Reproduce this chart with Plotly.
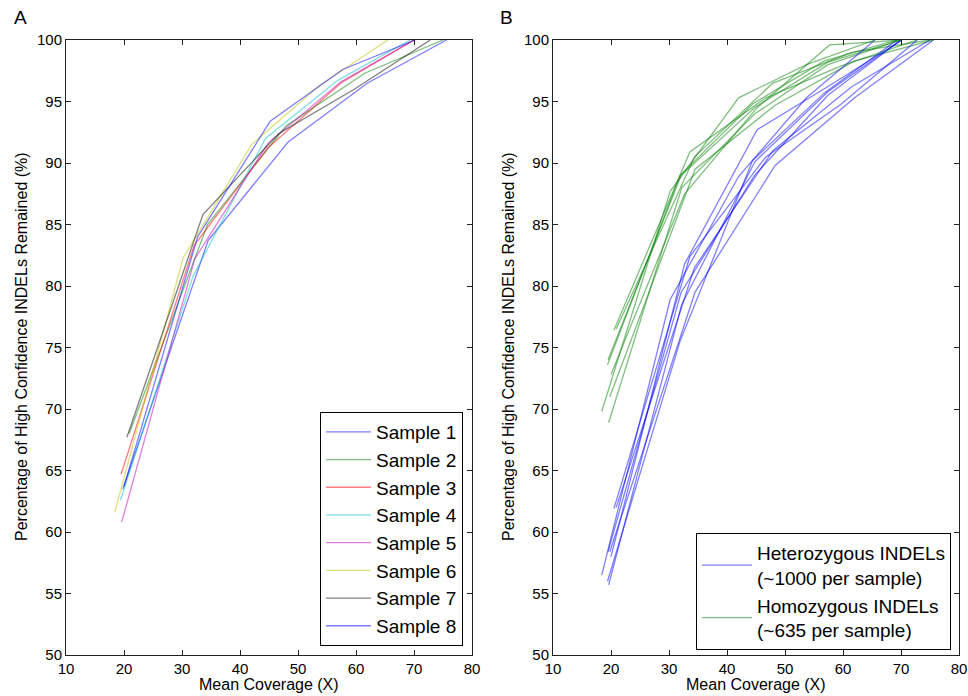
import plotly.graph_objects as go

# mean coverage after each down-sampling step, one list per sample
coverage = [
    [19.8, 34.5, 48.3, 62.0, 75.6],
    [20.9, 34.4, 47.9, 61.5, 75.0],
    [19.5, 32.1, 44.75, 57.4, 70.0],
    [19.4, 31.9, 44.4, 56.8, 69.3],
    [19.6, 32.2, 44.8, 57.4, 70.0],
    [18.4, 30.2, 42.0, 53.7, 65.5],
    [20.5, 33.6, 46.7, 59.7, 72.8],
    [20.0, 32.7, 45.2, 57.7, 70.2],
]

# % of high confidence INDELs remained (all INDELs) - panel A
total_remained = [
    [63.5, 83.7, 91.7, 96.5, 100],
    [68.0, 85.0, 93.0, 97.3, 100],
    [64.7, 83.3, 91.2, 96.5, 100],
    [62.6, 80.8, 92.0, 96.7, 100],
    [60.8, 82.2, 91.6, 96.6, 100],
    [61.6, 82.3, 91.5, 96.3, 100],
    [67.7, 85.8, 92.4, 96.0, 100],
    [63.7, 84.0, 93.4, 97.6, 100],
]

# panel B, split by zygosity
het_remained = [
    [58.4, 79.5, 89.8, 95.3, 100],
    [62.0, 81.5, 91.0, 96.2, 100],
    [58.4, 79.5, 89.0, 95.5, 100],
    [56.0, 75.5, 90.2, 95.7, 100],
    [55.7, 78.5, 90.1, 95.8, 100],
    [56.5, 78.9, 88.9, 95.3, 100],
    [61.9, 82.4, 90.5, 94.8, 100],
    [58.0, 81.8, 92.7, 96.3, 100],
]
hom_remained = [
    [71.0, 89.5, 94.7, 98.3, 100],
    [76.5, 90.5, 96.5, 99.0, 100],
    [74.0, 89.0, 94.5, 98.2, 100],
    [73.6, 89.0, 94.8, 98.3, 100],
    [68.9, 88.0, 94.0, 98.0, 100],
    [69.8, 87.7, 95.3, 98.0, 100],
    [76.4, 90.9, 95.3, 97.9, 100],
    [72.8, 87.5, 94.5, 99.6, 100],
]

sample_names = ["Sample %d" % (i + 1) for i in range(8)]
sample_colors = [
    "rgba(0,0,255,0.5)", "rgba(0,128,0,0.5)", "rgba(255,0,0,0.5)", "rgba(0,191,191,0.5)",
    "rgba(191,0,191,0.5)", "rgba(191,191,0,0.5)", "rgba(0,0,0,0.5)", "rgba(0,0,255,0.5)",
]
het_name = "Heterozygous INDELs<br>(~1000 per sample)"
hom_name = "Homozygous INDELs<br>(~635 per sample)"
het_color = "rgba(0,0,255,0.5)"
hom_color = "rgba(0,128,0,0.5)"

W, H = 968, 696
FONT = "Liberation Sans, Arial, sans-serif"

fig = go.Figure()

for i in range(8):
    fig.add_trace(go.Scatter(
        x=coverage[i], y=total_remained[i], mode="lines", name=sample_names[i],
        line=dict(color=sample_colors[i], width=1.3),
        xaxis="x", yaxis="y", legend="legend"))

for i in range(8):
    fig.add_trace(go.Scatter(
        x=coverage[i], y=het_remained[i], mode="lines", name=het_name,
        line=dict(color=het_color, width=1.3), legendgroup="het", showlegend=(i == 0),
        xaxis="x2", yaxis="y2", legend="legend2", legendrank=1))
    fig.add_trace(go.Scatter(
        x=coverage[i], y=hom_remained[i], mode="lines", name=hom_name,
        line=dict(color=hom_color, width=1.3), legendgroup="hom", showlegend=(i == 0),
        xaxis="x2", yaxis="y2", legend="legend2", legendrank=2))

ydom = [(H - 655) / H, (H - 40) / H]
common_x = dict(range=[10, 80], tick0=10, dtick=10, ticks="inside", ticklen=5, tickcolor="#222",
                mirror="allticks", showline=True, linecolor="#222", linewidth=1,
                showgrid=False, zeroline=False, tickfont=dict(size=15), automargin=False)
common_y = dict(range=[50, 100], tick0=50, dtick=5, ticks="inside", ticklen=5, tickcolor="#222",
                mirror="allticks", showline=True, linecolor="#222", linewidth=1,
                showgrid=False, zeroline=False, tickfont=dict(size=15), domain=ydom,
                automargin=False)

fig.update_layout(
    width=W, height=H,
    margin=dict(l=0, r=0, t=0, b=0, autoexpand=False),
    paper_bgcolor="white", plot_bgcolor="white",
    font=dict(family=FONT, size=15, color="black"),
    xaxis=dict(common_x, domain=[66 / W, 472 / W], anchor="y"),
    yaxis=dict(common_y, anchor="x"),
    xaxis2=dict(common_x, domain=[553 / W, 959 / W], anchor="y2"),
    yaxis2=dict(common_y, anchor="x2"),
    legend=dict(x=463 / W, xanchor="right", y=(H - 646) / H, yanchor="bottom",
                bgcolor="white", bordercolor="black", borderwidth=1,
                font=dict(size=19), itemwidth=45),
    legend2=dict(x=951 / W, xanchor="right", y=(H - 650) / H, yanchor="bottom",
                 bgcolor="white", bordercolor="black", borderwidth=1,
                 font=dict(size=19), itemwidth=50, tracegroupgap=0),
)

annotations = [
    ("A", 20, 17, 19, 0),
    ("B", 507, 17, 19, 0),
    ("Mean Coverage (X)", 269, 684, 16, 0),
    ("Mean Coverage (X)", 756, 684, 16, 0),
    ("Percentage of High Confidence INDELs Remained (%)", 21, 347, 16, -90),
    ("Percentage of High Confidence INDELs Remained (%)", 508, 347, 16, -90),
]
for text, px, py, size, angle in annotations:
    fig.add_annotation(text=text, x=px / W, y=1 - py / H, xref="paper", yref="paper",
                       showarrow=False, textangle=angle, font=dict(size=size),
                       xanchor="center", yanchor="middle")

# page body has a default 8px margin, drop it so the figure sits at 0,0
fig.write_html("out.html", config={"displayModeBar": False},
               post_script="document.body.style.margin='0';")
